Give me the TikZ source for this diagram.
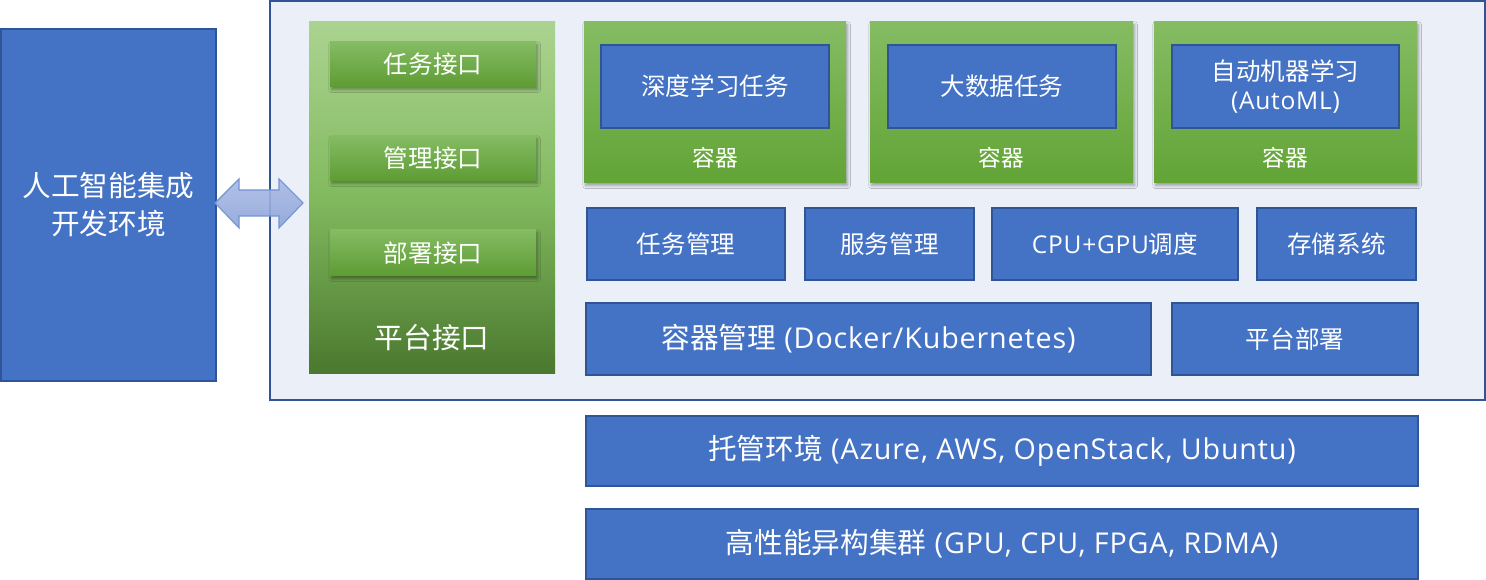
\documentclass[tikz,border=0pt]{standalone}
\usepackage{fontspec}
\setmainfont{Open Sans}[LetterSpace=3]
\newfontfamily\cjk{Noto Sans CJK SC}
\usetikzlibrary{shadows.blur}
\definecolor{bfill}{HTML}{4472C4}
\definecolor{bline}{HTML}{2F5597}
\definecolor{outerfill}{HTML}{EBEFF8}
\definecolor{gtop}{HTML}{85BC63}
\definecolor{gbot}{HTML}{62A436}
\definecolor{ptop}{HTML}{ABD390}
\definecolor{pbot}{HTML}{4A782E}
\definecolor{atop}{HTML}{AABAE4}
\definecolor{abot}{HTML}{8CA3D9}
\definecolor{aline}{HTML}{7393D2}
\newcommand\pbox[7][]{\node[#1, minimum width={(#5-#3)*0.75pt}, minimum height={(#6-#4)*0.75pt}] (#2) at ({(#3+#5)/2},{(#4+#6)/2}) {#7};}
\tikzset{
  base/.style={inner sep=0pt, outer sep=0pt, rectangle, text=white, align=center},
  bluebox/.style={base, fill=bfill, draw=bline, line width=1.6pt},
  gshadow/.style={blur shadow={shadow xshift=1.2pt, shadow yshift=-2pt, shadow blur steps=6, shadow opacity=35}},
  container/.style={base, top color=gtop, bottom color=gbot, draw=none, gshadow},
  button/.style={base, top color=gtop, bottom color=gbot!95!black, draw=none, gshadow},
  panel/.style={base, top color=ptop, bottom color=pbot, middle color=gtop!90!gbot, draw=none},
  outer/.style={base, fill=outerfill, draw=bline, line width=1.3pt},
  lbl/.style={text=white, inner sep=0pt, align=center},
  f23/.style={font=\fontsize{17}{20}\selectfont},
  f25/.style={font=\fontsize{18.4}{22}\selectfont},
  f28/.style={font=\fontsize{21.5}{25.5}\selectfont},
}
\begin{document}
\begin{tikzpicture}[x=0.75pt,y=-0.75pt]
\useasboundingbox (0,0) rectangle (1486,580);
% outer platform container
\pbox[outer]{outer}{270}{1}{1485}{400}{}
% left IDE box
\pbox[bluebox, f28]{ide}{1}{29}{216}{381}{\cjk 人工智能集成\\[3pt]\cjk 开发环境}
% platform interface panel
\pbox[panel]{panel}{309}{22}{555}{374}{}
\node[lbl, f28] (panellbl) at (432,338) {\cjk 平台接口};
\pbox[button, f25]{api1}{330}{42}{536}{87}{\cjk 任务接口}
\pbox[button, f25]{api2}{330}{136}{536}{181}{\cjk 管理接口}
\pbox[button, f25]{api3}{330}{230}{536}{276}{\cjk 部署接口}
% double arrow
\path[draw=aline, line width=0.8pt, top color=atop, bottom color=abot, fill opacity=0.9]
  (215,203) -- (239,179) -- (239,190) -- (279,190) -- (279,179) -- (303,203)
  -- (279,228) -- (279,216) -- (239,216) -- (239,228) -- cycle;
% containers
\pbox[container]{c1}{584}{22}{846}{183}{}
\pbox[container]{c2}{870}{22}{1133}{183}{}
\pbox[container]{c3}{1154}{22}{1417}{183}{}
\pbox[bluebox, f25]{t1}{601}{45}{829}{128}{\cjk 深度学习任务}
\pbox[bluebox, f25]{t2}{888}{45}{1116}{128}{\cjk 大数据任务}
\pbox[bluebox, font=\fontsize{18.4}{21.8}\selectfont]{t3}{1172}{45}{1399}{128}{{\cjk 自动机器学习}\\(AutoML)}
\node[lbl, f23] (c1l) at (715,158) {\cjk 容器};
\node[lbl, f23] (c2l) at (1001,158) {\cjk 容器};
\node[lbl, f23] (c3l) at (1285,158) {\cjk 容器};
% row 2
\pbox[bluebox, f25]{r1}{587}{208}{785}{280}{\cjk 任务管理}
\pbox[bluebox, f25]{r2}{805}{208}{974}{280}{\cjk 服务管理}
\pbox[bluebox, f25]{r3}{992}{208}{1238}{280}{CPU+GPU{\cjk 调度}}
\pbox[bluebox, f25]{r4}{1257}{208}{1416}{280}{\cjk 存储系统}
% row 3
\pbox[bluebox, f28]{k8s}{586}{303}{1151}{375}{{\cjk 容器管理} (Docker/Kubernetes)}
\pbox[bluebox, f25]{deploy}{1172}{303}{1418}{375}{\cjk 平台部署}
% bottom rows
\pbox[bluebox, f28]{host}{586}{416}{1418}{486}{{\cjk 托管环境} (Azure, AWS, OpenStack, Ubuntu)}
\pbox[bluebox, f28]{hpc}{586}{509}{1418}{579}{{\cjk 高性能异构集群} (GPU, CPU, FPGA, RDMA)}
\end{tikzpicture}
\end{document}
